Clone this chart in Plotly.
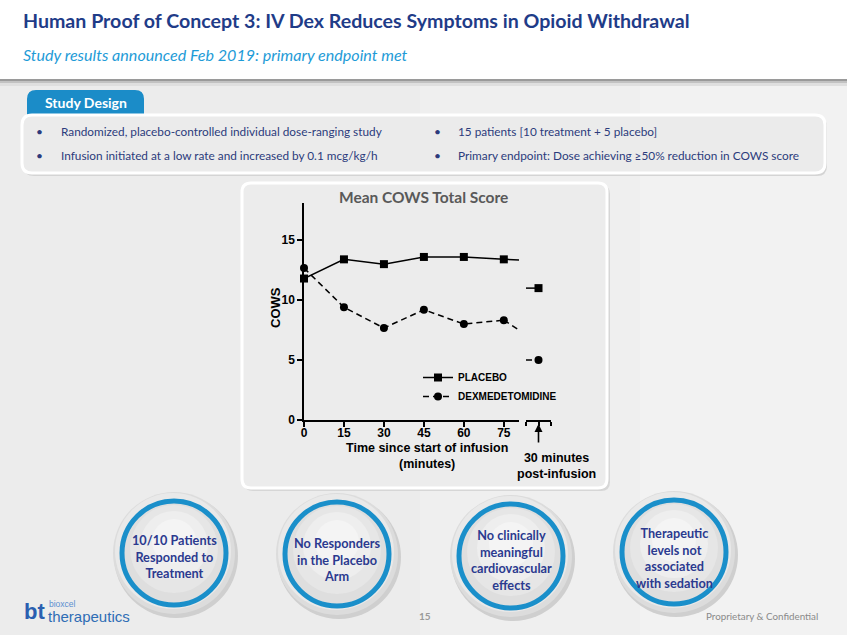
import plotly.graph_objects as go

# ---------------- data ----------------
times = [0, 15, 30, 45, 60, 75]
placebo = [11.8, 13.4, 13.0, 13.6, 13.6, 13.4]
dex = [12.67, 9.4, 7.67, 9.2, 8.0, 8.33]
# line continuation up to the axis break (minute ~80.7)
t_end = [75, 80.7]
placebo_end = [13.4, 13.35]
dex_end = [8.33, 7.5]
# 30 minutes post-infusion
post_x = [-1, 0]
placebo_post = [11.0, 11.0]
dex_post = [5.0, 5.0]
x_ticks = [0, 15, 30, 45, 60, 75]
y_ticks = [0, 5, 10, 15]

W, H = 847, 635
def X(px): return px / W
def Y(py): return 1 - py / H

BLK = "black"
AX_FONT = dict(family="Liberation Sans, Arial", size=12, color=BLK)

fig = go.Figure()

fig.add_trace(go.Scatter(x=times, y=placebo, mode="lines+markers", name="<b>PLACEBO</b>",
                         line=dict(color=BLK, width=1.5),
                         marker=dict(symbol="square", size=8, color=BLK),
                         cliponaxis=False, xaxis="x", yaxis="y"))
fig.add_trace(go.Scatter(x=times, y=dex, mode="lines+markers", name="<b>DEXMEDETOMIDINE</b>",
                         line=dict(color=BLK, width=1.5, dash="6px,4px"),
                         marker=dict(symbol="circle", size=8, color=BLK),
                         cliponaxis=False, xaxis="x", yaxis="y"))
fig.add_trace(go.Scatter(x=t_end, y=placebo_end, mode="lines", showlegend=False,
                         line=dict(color=BLK, width=1.5), xaxis="x", yaxis="y"))
fig.add_trace(go.Scatter(x=t_end, y=dex_end, mode="lines", showlegend=False,
                         line=dict(color=BLK, width=1.5, dash="6px,4px"), xaxis="x", yaxis="y"))
fig.add_trace(go.Scatter(x=post_x, y=placebo_post, mode="lines", showlegend=False,
                         line=dict(color=BLK, width=1.5), cliponaxis=False, xaxis="x2", yaxis="y"))
fig.add_trace(go.Scatter(x=post_x, y=dex_post, mode="lines", showlegend=False,
                         line=dict(color=BLK, width=1.5, dash="6px,4px"), cliponaxis=False,
                         xaxis="x2", yaxis="y"))
fig.add_trace(go.Scatter(x=post_x[-1:], y=placebo_post[-1:], mode="markers", showlegend=False,
                         marker=dict(symbol="square", size=8, color=BLK), cliponaxis=False,
                         xaxis="x2", yaxis="y"))
fig.add_trace(go.Scatter(x=post_x[-1:], y=dex_post[-1:], mode="markers", showlegend=False,
                         marker=dict(symbol="circle", size=8, color=BLK), cliponaxis=False,
                         xaxis="x2", yaxis="y"))

shapes = []

def rrect(x0, y0, x1, y1, r, fill, line_color=None, lw=0, top_only=False):
    if top_only:
        p = (f"M {X(x0)},{Y(y1)} L {X(x0)},{Y(y0+r)} Q {X(x0)},{Y(y0)} {X(x0+r)},{Y(y0)} "
             f"L {X(x1-r)},{Y(y0)} Q {X(x1)},{Y(y0)} {X(x1)},{Y(y0+r)} L {X(x1)},{Y(y1)} Z")
    else:
        p = (f"M {X(x0+r)},{Y(y0)} L {X(x1-r)},{Y(y0)} Q {X(x1)},{Y(y0)} {X(x1)},{Y(y0+r)} "
             f"L {X(x1)},{Y(y1-r)} Q {X(x1)},{Y(y1)} {X(x1-r)},{Y(y1)} "
             f"L {X(x0+r)},{Y(y1)} Q {X(x0)},{Y(y1)} {X(x0)},{Y(y1-r)} "
             f"L {X(x0)},{Y(y0+r)} Q {X(x0)},{Y(y0)} {X(x0+r)},{Y(y0)} Z")
    shapes.append(dict(type="path", path=p, xref="paper", yref="paper", fillcolor=fill,
                       line=dict(color=line_color or fill, width=lw), layer="below"))

def rect(x0, y0, x1, y1, fill):
    shapes.append(dict(type="rect", xref="paper", yref="paper", x0=X(x0), x1=X(x1),
                       y0=Y(y1), y1=Y(y0), fillcolor=fill, line=dict(width=0), layer="below"))

def circ(cx, cy, r, fill, line_color=None, lw=0):
    shapes.append(dict(type="circle", xref="paper", yref="paper", x0=X(cx-r), x1=X(cx+r),
                       y0=Y(cy+r), y1=Y(cy-r), fillcolor=fill,
                       line=dict(color=line_color or fill, width=lw), layer="below"))

# slide background (lighter towards the right)
rect(0, 0, W, H, "#ececec")
rect(420, 86, W, H, "#efefef")
rect(640, 86, W, H, "#f2f2f2")

# header band
rect(0, 0, W, 80, "white")
rect(0, 79, W, 81, "#9a9a9a")
rect(0, 81, W, 83, "#c2c2c2")
rect(0, 83, W, 86, "#dfdfdf")

# study design
rrect(27, 90, 144, 118, 9, "#1b8cc8", top_only=True)
rrect(24, 117, 827, 176, 10, "#d4d4d4")
rrect(22, 115, 825, 173, 10, "#ebebeb", "white", 3)

# chart box
rrect(244, 185, 610, 491, 9, "#d6d6d6")
rrect(242, 183, 607, 488, 9, "#ececec", "white", 3)

# circles
circles = [(174, 553), (337, 554), (511, 556), (674, 552)]
for (cx, cy) in circles:
    circ(cx + 2, cy + 3, 62, "#cfcfcf")
    circ(cx, cy, 61, "#dcdcdc")
    circ(cx - 1, cy - 2, 58, "#e9e9e9")
    circ(cx, cy, 52, "#dedede", "#1a8fca", 5)
    circ(cx, cy - 4, 44, "#e6e6e6")
    circ(cx, cy - 8, 34, "#eeeeee")
    circ(cx, cy - 12, 22, "#f4f4f4")

ann = []
def text(x, y, s, size, color, family="Lato", bold=False, italic=False, xanchor="left", align="left"):
    t = s
    if bold:
        t = f"<b>{t}</b>"
    if italic:
        t = f"<i>{t}</i>"
    ann.append(dict(x=X(x), y=Y(y), xref="paper", yref="paper", text=t, showarrow=False,
                    xanchor=xanchor, yanchor="middle", align=align,
                    font=dict(family=family, size=size, color=color)))

text(21, 21, "Human Proof of Concept 3: IV Dex Reduces Symptoms in Opioid Withdrawal", 19.6,
     "#1f3c88", bold=True)
text(21, 55, "Study results announced Feb 2019: primary endpoint met", 16.1, "#1e9bd7", italic=True)
text(85.5, 102.5, "Study Design", 14, "white", bold=True, xanchor="center")

bullet_col = "#2c3b7c"
for bx, tx, rows in [(39, 59, ["Randomized, placebo-controlled individual dose-ranging study",
                                "Infusion initiated at a low rate and increased by 0.1 mcg/kg/h"]),
                      (437, 456, ["15 patients [10 treatment + 5 placebo]",
                                  "Primary endpoint: Dose achieving ≥50% reduction in COWS score"])]:
    for i, r in enumerate(rows):
        yy = 132 + i * 23
        text(bx, yy, "•", 12, bullet_col, xanchor="center")
        text(tx, yy, r, 11.8, bullet_col)

# chart texts
text(423, 197, "Mean COWS Total Score", 15.5, "#595959", bold=True, xanchor="center")
ann.append(dict(x=X(276), y=Y(308), xref="paper", yref="paper", text="<b>COWS</b>", textangle=-90,
                xanchor="center", yanchor="middle", showarrow=False,
                font=dict(family="Liberation Sans, Arial", size=13, color=BLK)))
text(427, 456, "Time since start of infusion<br>(minutes)", 12.5, BLK,
     family="Liberation Sans, Arial", bold=True, xanchor="center", align="center")
text(556, 466, "30 minutes<br>post-infusion", 12.5, BLK,
     family="Liberation Sans, Arial", bold=True, xanchor="center", align="center")
ann.append(dict(x=0, y=Y(424), xref="x2", yref="paper", ax=0, ay=20, text="", showarrow=True,
                arrowhead=2, arrowsize=1, arrowwidth=1.6, arrowcolor=BLK))

# circle texts
circ_texts = [("10/10 Patients<br>Responded to<br>Treatment", 556),
              ("No Responders<br>in the Placebo<br>Arm", 559),
              ("No clinically<br>meaningful<br>cardiovascular<br>effects", 559.5),
              ("Therapeutic<br>levels not<br>associated<br>with sedation", 557.5)]
for (cx, _), (s, ty) in zip(circles, circ_texts):
    text(cx, ty, s, 12.7, "#2b3a8f", bold=True, xanchor="center", align="center")

# footer
text(22, 611, "bt", 22, "#2a5fb0", family="Liberation Sans, Arial", bold=True)
text(47, 604, "bioxcel", 8.5, "#5a8fd0", family="Liberation Sans, Arial")
text(46, 616, "therapeutics", 15, "#2f6db5", family="Liberation Sans, Arial")
text(425, 616, "15", 10, "#9a9a9a", bold=True, xanchor="center")
text(820, 616, "Proprietary & Confidential", 9.8, "#8a8a8a", xanchor="right")

axis_common = dict(showline=True, linecolor=BLK, linewidth=1.5, ticks="outside", tickcolor=BLK,
                   tickwidth=1.5, showgrid=False, zeroline=False, tickfont=AX_FONT,
                   automargin=False)

fig.update_layout(
    template="none",
    width=W, height=H, autosize=False,
    margin=dict(l=0, r=0, t=0, b=0, pad=0, autoexpand=False),
    paper_bgcolor="#eeeeee", plot_bgcolor="rgba(0,0,0,0)",
    xaxis=dict(domain=[X(304), X(519)], range=[0, 80.7], tickvals=x_ticks,
               ticktext=[f"<b>{v}</b>" for v in x_ticks], ticklen=5, ticklabelstandoff=-4,
               anchor="y", **axis_common),
    xaxis2=dict(domain=[X(526), X(551)], range=[-1, 1], tickvals=[-1, 0, 1],
                ticktext=["", "", ""], ticklen=4, anchor="y", **axis_common),
    yaxis=dict(domain=[Y(420), Y(203)], range=[0, 18.1], tickvals=y_ticks,
               ticktext=[f"<b>{v}</b>" for v in y_ticks], ticklen=5, anchor="x", **axis_common),
    showlegend=True,
    legend=dict(x=X(418), y=Y(363), xanchor="left", yanchor="top", bgcolor="rgba(0,0,0,0)",
                font=dict(family="Liberation Sans, Arial", size=10, color=BLK),
                tracegroupgap=0, itemwidth=30),
    shapes=shapes, annotations=ann,
)

fig.write_html("out.html", config={"responsive": False},
               default_width="847px", default_height="635px")
